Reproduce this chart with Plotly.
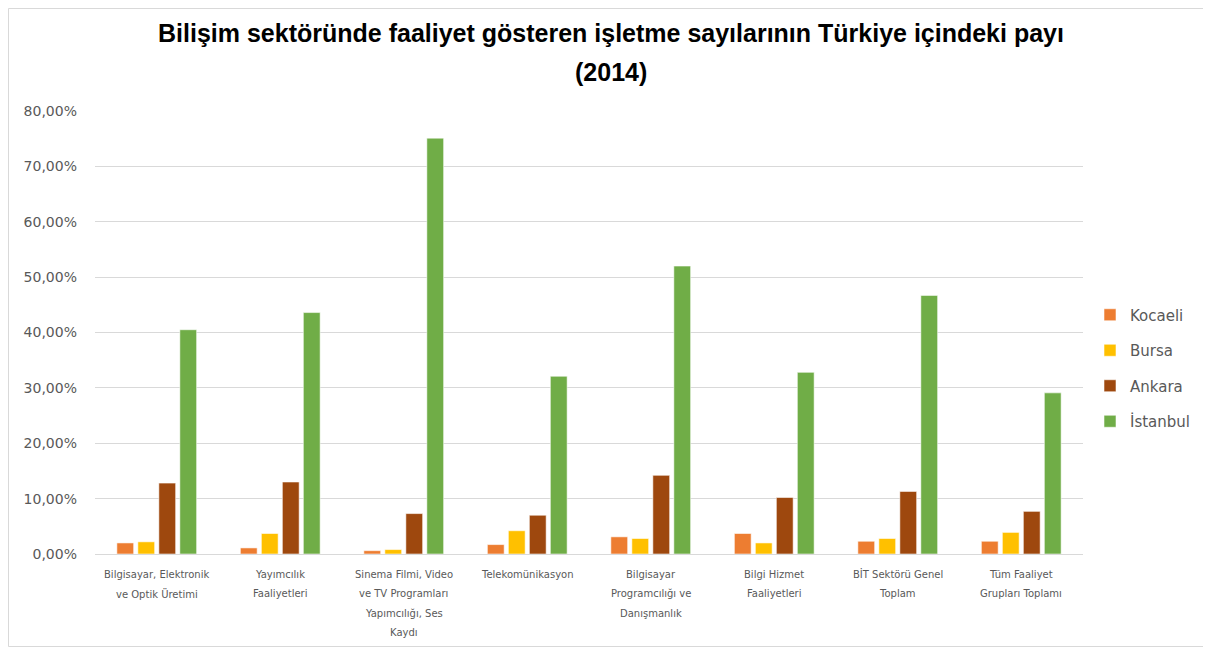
import plotly.graph_objects as go

title_line1 = "Bilişim sektöründe faaliyet gösteren işletme sayılarının Türkiye içindeki payı"
title_line2 = "(2014)"
categories = [
    "Bilgisayar, Elektronik<br>ve Optik Üretimi",
    "Yayımcılık<br>Faaliyetleri",
    "Sinema Filmi, Video<br>ve TV Programları<br>Yapımcılığı, Ses<br>Kaydı",
    "Telekomünikasyon",
    "Bilgisayar<br>Programcılığı ve<br>Danışmanlık",
    "Bilgi Hizmet<br>Faaliyetleri",
    "BİT Sektörü Genel<br>Toplam",
    "Tüm Faaliyet<br>Grupları Toplamı",
]
kocaeli = [0.020, 0.011, 0.006, 0.017, 0.031, 0.037, 0.023, 0.023]
bursa = [0.022, 0.037, 0.008, 0.042, 0.028, 0.020, 0.028, 0.039]
ankara = [0.128, 0.130, 0.073, 0.070, 0.142, 0.102, 0.113, 0.077]
istanbul = [0.405, 0.436, 0.751, 0.321, 0.520, 0.328, 0.467, 0.291]

series = [
    ("Kocaeli", kocaeli, "#ED7D31"),
    ("Bursa", bursa, "#FFC000"),
    ("Ankara", ankara, "#9E480E"),
    ("İstanbul", istanbul, "#70AD47"),
]

fig = go.Figure()
for name, vals, col in series:
    fig.add_trace(go.Bar(
        x=categories, y=vals, name=name,
        marker=dict(color=col, line=dict(color="rgba(255,255,255,0.55)", width=1)),
        legendgroup=name,
    ))

# page offset of 8px (default body margin)
OFF = 8
W, H = 1211 - OFF, 648 - OFF
PL, PR, PT, PB = 95, 1083, 111, 554   # plot area in page pixels
L = PL - OFF
T = PT - OFF
R = W - (PR - OFF)
B = H - (PB - OFF)
pw = PR - PL
ph = PB - PT

def px_x(p):
    return (p - PL) / pw

def px_y(p):
    return (PB - p) / ph

annotations = []
for cat in categories:
    for j, line in enumerate(cat.split("<br>")):
        annotations.append(dict(
            x=cat, xref="x", y=0, yref="paper",
            text=line, showarrow=False,
            xanchor="center", yanchor="middle",
            yshift=-(20 + 19.5 * j),
            font=dict(size=10, color="#595959", family="DejaVu Sans"),
        ))

annotations.append(dict(
    x=px_x(611), xref="paper", y=px_y(72), yref="paper",
    text=title_line2, showarrow=False, xanchor="center", yanchor="middle",
    font=dict(family="Liberation Sans", size=25, color="#000000", weight="bold"),
))

fig.update_layout(
    width=W, height=H,
    margin=dict(l=L, r=R, t=T, b=B),
    paper_bgcolor="white", plot_bgcolor="white",
    separators=",.",
    barmode="group", bargap=0.32, bargroupgap=0.2,
    font=dict(family="DejaVu Sans", color="#595959"),
    title=dict(
        text=title_line1,
        x=(611 - OFF) / W, xanchor="center", yref="container", y=1 - (33 - OFF) / H, yanchor="middle",
        font=dict(family="Liberation Sans", size=25, color="#000000", weight="bold"),
    ),
    xaxis=dict(
        showgrid=False, showline=False, ticks="", showticklabels=False,
    ),
    yaxis=dict(
        range=[0, 0.8], dtick=0.1, tickformat=".2%",
        showgrid=True, gridcolor="#D9D9D9", gridwidth=1,
        zeroline=True, zerolinecolor="#D9D9D9", zerolinewidth=1,
        showline=False, ticks="",
        tickfont=dict(size=14, color="#595959"),
        ticklabelstandoff=17,
    ),
    legend=dict(
        x=px_x(1090), xanchor="left", y=px_y(368), yanchor="middle",
        font=dict(size=15, color="#595959"),
        tracegroupgap=13,
        bgcolor="rgba(0,0,0,0)",
    ),
    showlegend=True,
    annotations=annotations,
    shapes=[dict(
        type="rect", xref="paper", yref="paper",
        x0=px_x(8.5), x1=px_x(1209.5), y0=px_y(646.5), y1=px_y(8.5),
        line=dict(color="#D9D9D9", width=1), fillcolor="rgba(0,0,0,0)", layer="below",
    )],
)

fig.write_html("out.html")
